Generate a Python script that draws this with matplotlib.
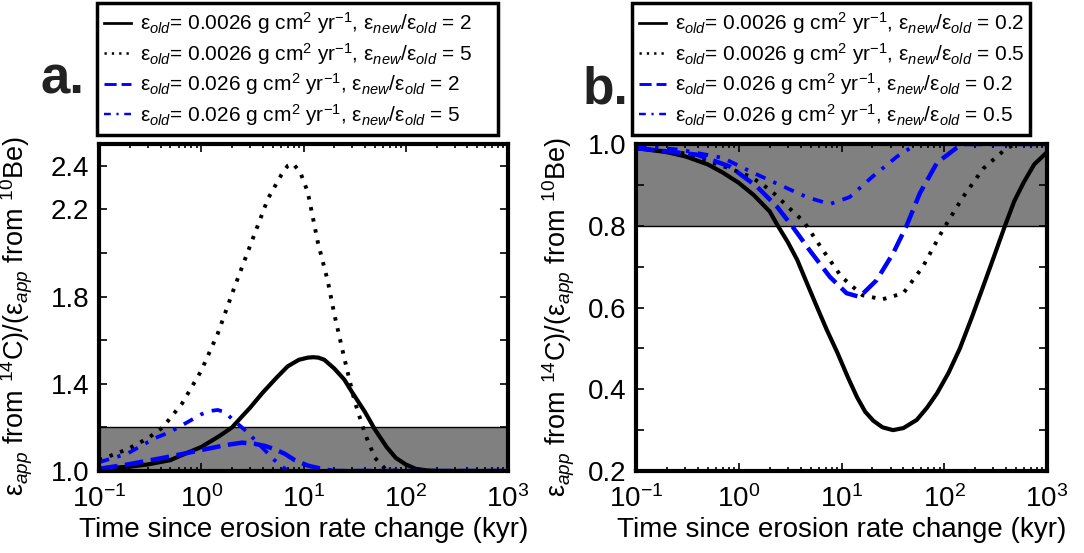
import matplotlib
matplotlib.use("Agg")
import matplotlib.pyplot as plt
from matplotlib.ticker import LogLocator, NullFormatter

plt.rcParams['font.family'] = ['Liberation Sans', 'DejaVu Sans']
plt.rcParams['mathtext.fontset'] = 'custom'
plt.rcParams['mathtext.rm'] = 'Liberation Sans'
plt.rcParams['mathtext.it'] = 'Liberation Sans:italic'
plt.rcParams['mathtext.bf'] = 'Liberation Sans:bold'

# ---- data (time in kyr, ratio) ----
# panel a: erosion rate increase
a_solid_t = [0.1, 0.2, 0.3, 0.5, 0.7, 1.0, 1.5, 2.0, 2.5, 3.0, 4.0, 5.5, 7.0, 9.0, 11, 12.5,
             14, 16, 20, 25, 30, 40, 50, 65, 80, 100, 125, 160, 200, 300, 1000]
a_solid_y = [1.01, 1.02, 1.03, 1.05, 1.08, 1.11, 1.16, 1.20, 1.25, 1.29, 1.36, 1.43, 1.48, 1.51, 1.52, 1.522,
             1.52, 1.51, 1.47, 1.42, 1.36, 1.27, 1.19, 1.11, 1.06, 1.03, 1.01, 1.003, 1.0, 1.0, 1.0]

a_dot_t = [0.1, 0.19, 0.3, 0.42, 0.65, 1.0, 1.45, 2.1, 3.1, 4.5, 6.1, 7.0, 7.9, 9.3, 11,
           13.8, 17.3, 20, 25, 31.6, 40, 50, 63, 80, 1000]
a_dot_y = [1.05, 1.10, 1.15, 1.20, 1.31, 1.46, 1.63, 1.84, 2.05, 2.25, 2.36, 2.40, 2.41, 2.37, 2.28,
           2.05, 1.87, 1.72, 1.52, 1.32, 1.17, 1.06, 1.01, 1.0, 1.0]

a_dash_t = [0.1, 0.19, 0.42, 0.87, 1.4, 1.8, 2.5, 3.3, 4.2, 5.2, 6.5, 8.2, 11, 15, 20, 1000]
a_dash_y = [1.01, 1.03, 1.06, 1.09, 1.11, 1.12, 1.13, 1.125, 1.115, 1.10, 1.08, 1.05, 1.025, 1.01, 1.0, 1.0]

a_dd_t = [0.1, 0.19, 0.35, 0.5, 0.65, 1.0, 1.2, 1.45, 1.7, 2.1, 2.8, 3.9, 5.2, 7.0, 10, 1000]
a_dd_y = [1.04, 1.08, 1.15, 1.18, 1.21, 1.26, 1.275, 1.28, 1.27, 1.23, 1.18, 1.11, 1.05, 1.0, 1.0, 1.0]

# panel b: erosion rate decrease
b_solid_t = [0.1, 0.2, 0.3, 0.5, 0.7, 1.0, 1.4, 2.0, 2.4, 3.0, 3.7, 4.6, 5.8, 7.2, 9.1, 11.5,
             14.2, 17, 20.4, 25, 31.7, 40, 54, 68, 85, 110, 142, 185, 238, 300, 390, 480,
             590, 750, 1000]
b_solid_y = [0.99, 0.98, 0.97, 0.95, 0.93, 0.905, 0.875, 0.835, 0.80, 0.76, 0.717, 0.66, 0.60, 0.545,
             0.49, 0.43, 0.38, 0.345, 0.323, 0.307, 0.30, 0.305, 0.325, 0.355, 0.39, 0.44, 0.50,
             0.575, 0.65, 0.72, 0.80, 0.86, 0.905, 0.95, 0.98]

b_dot_t = [0.1, 0.3, 0.82, 1.3, 1.73, 2.3, 2.9, 4.3, 6.6, 10, 16, 25, 40, 62, 97, 152, 240,
           405, 500, 1000]
b_dot_y = [0.99, 0.977, 0.94, 0.92, 0.90, 0.875, 0.85, 0.81, 0.74, 0.675, 0.63, 0.62, 0.635,
           0.70, 0.79, 0.87, 0.94, 0.99, 1.0, 1.0]

b_dash_t = [0.1, 0.39, 0.82, 1.5, 2.35, 3.4, 4.9, 7.7, 11.2, 15, 22, 32, 43, 58, 85, 131,
            160, 1000]
b_dash_y = [0.99, 0.974, 0.945, 0.896, 0.847, 0.795, 0.74, 0.675, 0.635, 0.626, 0.667, 0.734,
            0.80, 0.88, 0.954, 0.99, 1.0, 1.0]

b_dd_t = [0.1, 0.27, 0.7, 1.37, 2.5, 4.6, 7.7, 12, 20, 35, 54, 1000]
b_dd_y = [0.995, 0.986, 0.966, 0.93, 0.90, 0.87, 0.853, 0.87, 0.92, 0.97, 1.0, 1.0]

band_a = (1.0, 1.2)
band_b = (0.8, 1.0)

labels_a = [r'ε$_{old}$= 0.0026 g cm$^2$ yr$^{-1}$, ε$_{new}$/ε$_{old}$ = 2',
            r'ε$_{old}$= 0.0026 g cm$^2$ yr$^{-1}$, ε$_{new}$/ε$_{old}$ = 5',
            r'ε$_{old}$= 0.026 g cm$^2$ yr$^{-1}$, ε$_{new}$/ε$_{old}$ = 2',
            r'ε$_{old}$= 0.026 g cm$^2$ yr$^{-1}$, ε$_{new}$/ε$_{old}$ = 5']
labels_b = [r'ε$_{old}$= 0.0026 g cm$^2$ yr$^{-1}$, ε$_{new}$/ε$_{old}$ = 0.2',
            r'ε$_{old}$= 0.0026 g cm$^2$ yr$^{-1}$, ε$_{new}$/ε$_{old}$ = 0.5',
            r'ε$_{old}$= 0.026 g cm$^2$ yr$^{-1}$, ε$_{new}$/ε$_{old}$ = 0.2',
            r'ε$_{old}$= 0.026 g cm$^2$ yr$^{-1}$, ε$_{new}$/ε$_{old}$ = 0.5']

yticks_a = [1.0, 1.2, 1.4, 1.6, 1.8, 2.0, 2.2, 2.4]
ylabels_a = ['1.0', '', '1.4', '', '1.8', '', '2.2', '2.4']
yticks_b = [0.2, 0.3, 0.4, 0.5, 0.6, 0.7, 0.8, 0.9, 1.0]
ylabels_b = ['0.2', '', '0.4', '', '0.6', '', '0.8', '', '1.0']

BLUE = '#0000ff'
W, H = 1084, 553
fig = plt.figure(figsize=(W / 100, H / 100), dpi=100)

ax_a = fig.add_axes([99 / W, 1 - 471 / H, 409 / W, 327 / H])
ax_b = fig.add_axes([636 / W, 1 - 471 / H, 411 / W, 327 / H])


def style(ax, band, ylim, yticks, ylabels):
    ax.axhspan(band[0], band[1], facecolor='#808080', edgecolor='none', zorder=0)
    ax.set_xscale('log')
    ax.set_xlim(0.1, 1000)
    ax.set_ylim(*ylim)
    ax.set_yticks(yticks)
    ax.set_yticklabels(ylabels)
    ax.xaxis.set_minor_locator(LogLocator(base=10, subs=range(2, 10), numticks=20))
    ax.xaxis.set_minor_formatter(NullFormatter())
    ax.tick_params(which='both', direction='in', top=True, right=True,
                   labelsize=20, width=1.2, colors='black')
    ax.tick_params(which='major', length=6, pad=7)
    ax.tick_params(axis='x', which='major', pad=10)
    ax.tick_params(which='minor', length=3)
    for s in ax.spines.values():
        s.set_linewidth(3)
    ax.set_xlabel('Time since erosion rate change (kyr)', fontsize=20, labelpad=3)
    ax.set_ylabel(r'ε$_{app}$ from $^{14}$C)/(ε$_{app}$ from $^{10}$Be)', fontsize=19.5)


def draw(ax, curves, labels, box):
    (st, sy), (dt, dy), (et, ey), (ft, fy) = curves
    h1, = ax.plot(st, sy, color='black', lw=3.0, label=labels[0])
    h2, = ax.plot(dt, dy, color='black', lw=2.8, linestyle=(0, (0.9, 2.0)), label=labels[1])
    h3, = ax.plot(et, ey, color=BLUE, lw=3.2, linestyle=(0, (4.2, 1.7)), label=labels[2])
    h4, = ax.plot(ft, fy, color=BLUE, lw=2.7, linestyle=(0, (2.8, 2.3, 0.9, 2.3)), label=labels[3])
    leg = ax.legend(handles=[h1, h2, h3, h4], loc='upper left', mode='expand',
                    bbox_to_anchor=box, bbox_transform=fig.transFigure,
                    fontsize=15, frameon=True, fancybox=False, edgecolor='black',
                    borderaxespad=0, handlelength=1.3, handletextpad=0.4,
                    labelspacing=0.22, borderpad=0.35, framealpha=1)
    leg.get_frame().set_linewidth(2.5)
    for line in leg.get_lines():
        line.set_linewidth(line.get_linewidth() * 0.65)


style(ax_a, band_a, (1.0, 2.5), yticks_a, ylabels_a)
ax_a.axhline(band_a[1], color='black', lw=1.0, zorder=1)
draw(ax_a, [(a_solid_t, a_solid_y), (a_dot_t, a_dot_y), (a_dash_t, a_dash_y), (a_dd_t, a_dd_y)],
     labels_a, (97 / W, 1 - 133 / H, 401 / W, 130 / H))
ax_a.yaxis.set_label_coords(-0.156, 0.474)

style(ax_b, band_b, (0.2, 1.0), yticks_b, ylabels_b)
ax_b.axhline(band_b[0], color='black', lw=1.0, zorder=1)
draw(ax_b, [(b_solid_t, b_solid_y), (b_dot_t, b_dot_y), (b_dash_t, b_dash_y), (b_dd_t, b_dd_y)],
     labels_b, (632 / W, 1 - 135 / H, 398 / W, 132 / H))
ax_b.yaxis.set_label_coords(-0.144, 0.47)

fig.text(40 / W, 1 - 94 / H, 'a.', fontsize=38, fontweight='bold', color='#222222')
fig.text(583 / W, 1 - 104 / H, 'b.', fontsize=37, fontweight='bold', color='#222222')

fig.savefig('out.png', dpi=100)
